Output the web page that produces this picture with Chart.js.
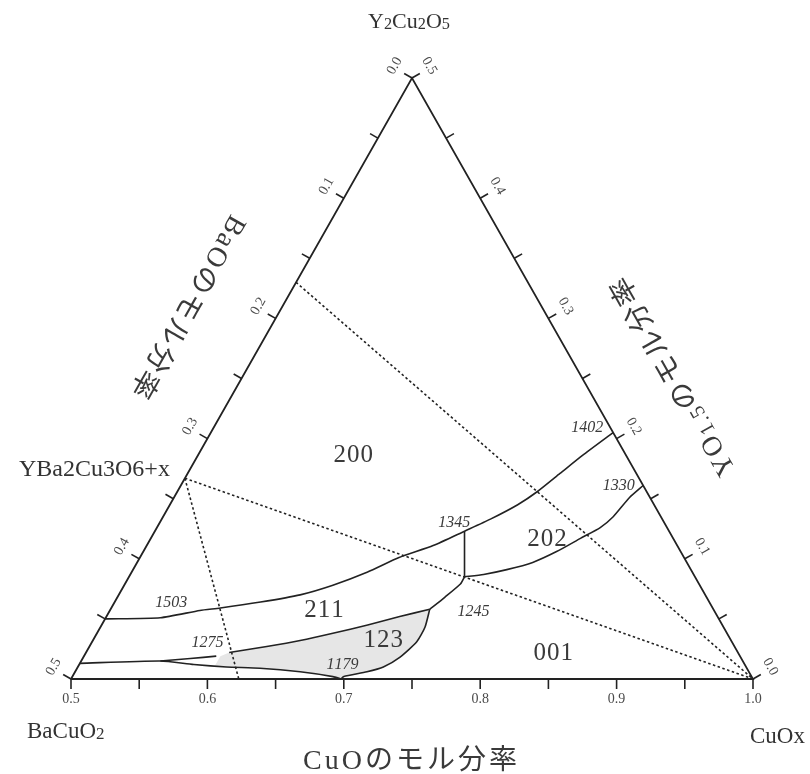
<!DOCTYPE html>
<html><head><meta charset="utf-8">
<script src="https://cdn.jsdelivr.net/npm/chart.js@4.4.1/dist/chart.umd.min.js"></script>
<style>html,body{margin:0;padding:0;background:#fff;}canvas{display:block;}</style>
</head><body>
<canvas id="c" width="810" height="774"></canvas>
<script>
// ===== DATA: compositions given as (CuO mole fraction, YO1.5 mole fraction); BaO = 1 - CuO - YO1.5 =====
const cuoTicks = [0.5,0.55,0.6,0.65,0.7,0.75,0.8,0.85,0.9,0.95,1.0];
const cuoLabelValues = [0.5,0.6,0.7,0.8,0.9,1.0];
const cuoTickLabels = ['0.5','0.6','0.7','0.8','0.9','1.0'];
const baoTicks = [0,0.05,0.1,0.15,0.2,0.25,0.3,0.35,0.4,0.45,0.5];
const baoLabelValues = [0,0.1,0.2,0.3,0.4,0.5];
const baoTickLabels = ['0.0','0.1','0.2','0.3','0.4','0.5'];
const yoTicks = [0,0.05,0.1,0.15,0.2,0.25,0.3,0.35,0.4,0.45,0.5];
const yoLabelValues = [0,0.1,0.2,0.3,0.4,0.5];
const yoTickLabels = ['0.0','0.1','0.2','0.3','0.4','0.5'];

const cornerNames = ['Y2Cu2O5','BaCuO2','CuOx'];
const compoundName = 'YBa2Cu3O6+x';
const axisTitles = ['CuOのモル分率','BaOのモル分率','YO1.5のモル分率'];

// triangle frame
const frameCuO = [0.5,0.5,1.0,0.5];
const frameY   = [0.0,0.5,0.0,0.0];
// dotted tie lines
const tieA_CuO = [0.500,1.000]; const tieA_Y = [0.330,0.000];
const tieB_CuO = [0.500,1.000]; const tieB_Y = [0.167,0.000];
const tieC_CuO = [0.500,0.623]; const tieC_Y = [0.167,0.000];
// phase boundaries
const upperCuO = [0.500,0.540,0.566,0.580,0.607,0.633,0.653,0.673,0.690,0.710,0.727,0.741,0.755,0.764,0.773,0.782,0.795];
const upperY   = [0.050,0.051,0.057,0.059,0.064,0.070,0.078,0.089,0.101,0.111,0.123,0.133,0.145,0.156,0.171,0.186,0.205];
const vertCuO  = [0.727,0.746];
const vertY    = [0.123,0.085];
const b1330CuO = [0.839,0.834,0.830,0.825,0.815,0.803,0.790,0.774,0.759,0.746];
const b1330Y   = [0.161,0.151,0.135,0.126,0.117,0.106,0.097,0.091,0.087,0.085];
const b1245CuO = [0.746,0.746,0.740,0.734];
const b1245Y   = [0.085,0.079,0.068,0.058];
const top123CuO = [0.605,0.630,0.652,0.673,0.695,0.715,0.734];
const top123Y   = [0.022,0.027,0.032,0.038,0.045,0.052,0.058];
const right123CuO = [0.734,0.738,0.738,0.732,0.724,0.714,0.699,0.698];
const right123Y   = [0.058,0.043,0.031,0.018,0.010,0.006,0.002,0.000];
const lowerCuO = [0.698,0.691,0.665,0.634,0.609,0.584,0.558,0.500];
const lowerY   = [0.000,0.002,0.006,0.009,0.010,0.012,0.015,0.013];
const branchCuO = [0.558,0.579,0.597];
const branchY   = [0.015,0.017,0.019];
// shaded 123 field
const shadeCuO = [0.600,0.605,0.630,0.652,0.673,0.695,0.715,0.734,0.738,0.738,0.732,0.724,0.714,0.699,0.698,0.691,0.665,0.634,0.609,0.600];
const shadeY   = [0.019,0.022,0.027,0.032,0.038,0.045,0.052,0.058,0.043,0.031,0.018,0.010,0.006,0.002,0.000,0.002,0.006,0.009,0.010,0.011];
// field labels
const fieldNames = ['200','202','211','123','001'];
const fieldCuO   = [0.614,0.791,0.657,0.713,0.843];
const fieldY     = [0.186,0.116,0.057,0.032,0.021];
// temperatures
const tempNames = ['1503','1275','1179','1245','1345','1402','1330'];
const tempCuO   = [0.542,0.585,0.693,0.767,0.716,0.774,0.821];
const tempY     = [0.063,0.030,0.012,0.056,0.130,0.209,0.161];

// ===== helpers =====
const toPts = (c, y) => c.map((v, i) => ({x: v + 0.5 * y[i], y: y[i]}));
const FAM = "'Liberation Serif', 'Noto Sans CJK JP', serif";
const INK = '#222222';

function lineSet(c, y, opts) {
  return Object.assign({data: toPts(c, y), showLine: true, borderColor: INK, borderWidth: 1.6,
    pointRadius: 0, fill: false, tension: 0, clip: false}, opts || {});
}

function chemRuns(str, subDigits) {
  const runs = []; const re = /([0-9.]+)|([^0-9.]+)/g; let m;
  while ((m = re.exec(str))) {
    if (m[1]) runs.push({t: m[1], sub: subDigits});
    else runs.push({t: m[2], sub: false});
  }
  return runs;
}

function drawRuns(ctx, runs, x, y, opts) {
  const size = opts.size, align = opts.align || 'center', ang = opts.angle || 0, sp = opts.spacing || 0;
  const style = opts.italic ? 'italic ' : '';
  const pieces = [];
  let total = 0;
  runs.forEach(r => {
    const s = r.sub ? size * 0.74 : size;
    ctx.font = style + s + 'px ' + FAM;
    for (const ch of r.t) {
      const w = ctx.measureText(ch).width;
      pieces.push({ch, s, w, dy: r.sub ? size * 0.13 : 0});
      total += w + sp;
    }
  });
  total -= sp;
  ctx.save();
  ctx.translate(x, y);
  ctx.rotate(ang);
  ctx.fillStyle = opts.color || '#333';
  ctx.textBaseline = 'middle';
  ctx.textAlign = 'left';
  let cx = align === 'center' ? -total / 2 : (align === 'right' ? -total : 0);
  pieces.forEach(p => {
    ctx.font = style + p.s + 'px ' + FAM;
    ctx.fillText(p.ch, cx, p.dy);
    cx += p.w + sp;
  });
  ctx.restore();
}

const decor = {
  id: 'ternaryDecor',
  beforeDatasetsDraw(chart) {
    const ctx = chart.ctx, xs = chart.scales.x, ys = chart.scales.y;
    ctx.save();
    ctx.beginPath();
    shadeCuO.forEach((c, i) => {
      const px = xs.getPixelForValue(c + 0.5 * shadeY[i]), py = ys.getPixelForValue(shadeY[i]);
      if (i === 0) ctx.moveTo(px, py); else ctx.lineTo(px, py);
    });
    ctx.closePath();
    ctx.fillStyle = '#e6e6e6';
    ctx.fill();
    ctx.restore();
  },
  afterDatasetsDraw(chart) {
    const ctx = chart.ctx, xs = chart.scales.x, ys = chart.scales.y;
    const P = (c, y) => [xs.getPixelForValue(c + 0.5 * y), ys.getPixelForValue(y)];
    const top = P(0.5, 0.5), bl = P(0.5, 0), br = P(1, 0);
    const lx = top[0] - bl[0], ly = top[1] - bl[1], ll = Math.hypot(lx, ly);
    const lu = [lx / ll, ly / ll];
    const ln = [ly / ll, -lx / ll];
    const rx = top[0] - br[0], ry = top[1] - br[1], rl = Math.hypot(rx, ry);
    const ru = [rx / rl, ry / rl];
    const rn = [-ry / rl, rx / rl];
    const angL = Math.atan2(-ly, -lx) + Math.PI;
    const angR = Math.atan2(br[1] - top[1], br[0] - top[0]);

    ctx.save();
    ctx.strokeStyle = INK; ctx.lineWidth = 1.6;
    cuoTicks.forEach(v => { const p = P(v, 0); ctx.beginPath(); ctx.moveTo(p[0], p[1]); ctx.lineTo(p[0], p[1] + 10); ctx.stroke(); });
    baoTicks.forEach(b => { const p = P(0.5, 0.5 - b); ctx.beginPath(); ctx.moveTo(p[0], p[1]); ctx.lineTo(p[0] + ln[0] * 9, p[1] + ln[1] * 9); ctx.stroke(); });
    yoTicks.forEach(y => { const p = P(1 - y, y); ctx.beginPath(); ctx.moveTo(p[0], p[1]); ctx.lineTo(p[0] + rn[0] * 9, p[1] + rn[1] * 9); ctx.stroke(); });
    ctx.restore();

    const tickOpts = {size: 14, color: '#4a4a4a'};
    cuoLabelValues.forEach((v, i) => { const p = P(v, 0); drawRuns(ctx, [{t: cuoTickLabels[i]}], p[0], p[1] + 20, tickOpts); });
    baoLabelValues.forEach((b, i) => {
      const p = P(0.5, 0.5 - b);
      drawRuns(ctx, [{t: baoTickLabels[i]}], p[0] + ln[0] * 21 + lu[0] * 2, p[1] + ln[1] * 21 + lu[1] * 2, Object.assign({angle: angL}, tickOpts));
    });
    yoLabelValues.forEach((y, i) => {
      const p = P(1 - y, y);
      drawRuns(ctx, [{t: yoTickLabels[i]}], p[0] + rn[0] * 21 + ru[0] * 2, p[1] + rn[1] * 21 + ru[1] * 2, Object.assign({angle: angR}, tickOpts));
    });

    drawRuns(ctx, chemRuns(cornerNames[0], true), top[0] - 3, top[1] - 56, {size: 22, color: '#333'});
    drawRuns(ctx, chemRuns(cornerNames[1], true), bl[0] - 44, bl[1] + 53, {size: 23, color: '#333', align: 'left'});
    drawRuns(ctx, chemRuns(cornerNames[2], false), br[0] - 3, br[1] + 58, {size: 23, color: '#333', align: 'left'});
    const cp = P(0.5, 0.167);
    drawRuns(ctx, chemRuns(compoundName, false), cp[0] - 15, cp[1] - 9, {size: 24, color: '#333', align: 'right'});

    drawRuns(ctx, chemRuns(axisTitles[0], false), (bl[0] + br[0]) / 2 - 2, bl[1] + 83, {size: 28, color: '#3a3a3a', spacing: 3});
    const lm = [(top[0] + bl[0]) / 2, (top[1] + bl[1]) / 2];
    drawRuns(ctx, chemRuns(axisTitles[1], false), lm[0] + ln[0] * 83 + lu[0] * 36, lm[1] + ln[1] * 83 + lu[1] * 36,
      {size: 28, color: '#3a3a3a', spacing: 2, angle: angL + Math.PI});
    const rm = [(top[0] + br[0]) / 2, (top[1] + br[1]) / 2];
    drawRuns(ctx, chemRuns(axisTitles[2], true), rm[0] + rn[0] * 81 - ru[0] * 43, rm[1] + rn[1] * 81 - ru[1] * 43,
      {size: 28, color: '#3a3a3a', spacing: 2, angle: angR + Math.PI});

    fieldNames.forEach((n, i) => { const p = P(fieldCuO[i], fieldY[i]); drawRuns(ctx, [{t: n}], p[0], p[1], {size: 25, color: '#3a3a3a', spacing: 1}); });
    tempNames.forEach((n, i) => { const p = P(tempCuO[i], tempY[i]); drawRuns(ctx, [{t: n}], p[0], p[1], {size: 16, color: '#3a3a3a', italic: true}); });
  }
};

new Chart(document.getElementById('c'), {
  type: 'scatter',
  data: {
    datasets: [
      lineSet(frameCuO, frameY, {borderWidth: 1.8, borderJoinStyle: 'miter'}),
      lineSet(tieA_CuO, tieA_Y, {borderDash: [2.5, 2.5], borderWidth: 1.6}),
      lineSet(tieB_CuO, tieB_Y, {borderDash: [2.5, 2.5], borderWidth: 1.6}),
      lineSet(tieC_CuO, tieC_Y, {borderDash: [2.5, 2.5], borderWidth: 1.6}),
      lineSet(upperCuO, upperY, {tension: 0.2}),
      lineSet(vertCuO, vertY),
      lineSet(b1330CuO, b1330Y, {tension: 0.2}),
      lineSet(b1245CuO, b1245Y, {tension: 0.2}),
      lineSet(top123CuO, top123Y, {tension: 0.2}),
      lineSet(right123CuO, right123Y, {tension: 0.2}),
      lineSet(lowerCuO, lowerY, {tension: 0.2}),
      lineSet(branchCuO, branchY, {tension: 0.2})
    ]
  },
  options: {
    responsive: false,
    animation: false,
    events: [],
    layout: {padding: {left: 71, right: 57, top: 78, bottom: 95}, autoPadding: false},
    scales: {
      x: {type: 'linear', min: 0.5, max: 1.0, display: false},
      y: {type: 'linear', min: 0, max: 0.5, display: false}
    },
    plugins: {legend: {display: false}, tooltip: {enabled: false}}
  },
  plugins: [decor]
});
</script>
</body></html>
